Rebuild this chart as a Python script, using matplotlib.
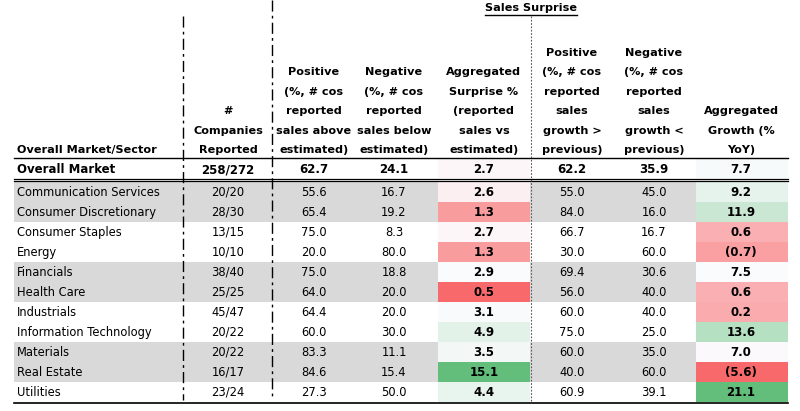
import numpy as np
import matplotlib
matplotlib.use("Agg")
import matplotlib.pyplot as plt
from matplotlib.colors import LinearSegmentedColormap, TwoSlopeNorm

# ---- table data ----
sectors = ["Communication Services", "Consumer Discretionary", "Consumer Staples",
           "Energy", "Financials", "Health Care", "Industrials",
           "Information Technology", "Materials", "Real Estate", "Utilities"]
reported = ["20/20", "28/30", "13/15", "10/10", "38/40", "25/25", "45/47",
            "20/22", "20/22", "16/17", "23/24"]
pos_surprise = [55.6, 65.4, 75.0, 20.0, 75.0, 64.0, 64.4, 60.0, 83.3, 84.6, 27.3]
neg_surprise = [16.7, 19.2, 8.3, 80.0, 18.8, 20.0, 20.0, 30.0, 11.1, 15.4, 50.0]
agg_surprise = [2.6, 1.3, 2.7, 1.3, 2.9, 0.5, 3.1, 4.9, 3.5, 15.1, 4.4]
pos_growth = [55.0, 84.0, 66.7, 30.0, 69.4, 56.0, 60.0, 75.0, 60.0, 40.0, 60.9]
neg_growth = [45.0, 16.0, 16.7, 60.0, 30.6, 40.0, 40.0, 25.0, 35.0, 60.0, 39.1]
agg_growth = [9.2, 11.9, 0.6, -0.7, 7.5, 0.6, 0.2, 13.6, 7.0, -5.6, 21.1]
gray_rows = [0, 1, 4, 5, 8, 9]

overall = ["Overall Market", "258/272", 62.7, 24.1, 2.7, 62.2, 35.9, 7.7]

headers = ["Overall Market/Sector", "#\nCompanies\nReported",
           "Positive\n(%, # cos\nreported\nsales above\nestimated)",
           "Negative\n(%, # cos\nreported\nsales below\nestimated)",
           "Aggregated\nSurprise %\n(reported\nsales vs\nestimated)",
           "Positive\n(%, # cos\nreported\nsales\ngrowth >\nprevious)",
           "Negative\n(%, # cos\nreported\nsales\ngrowth <\nprevious)",
           "Aggregated\nGrowth (%\nYoY)"]

# ---- layout (pixels) ----
W, H = 800, 411
left, right = 14, 788
col_x = [17, 228, 314, 394, 484, 572, 654, 741]
surp_cell = (438, 530)
grow_cell = (696, 788)
row0, row_h = 182, 20
overall_top, overall_bot = 159, 178
head_last_y, head_step = 150, 19.4

FONT = "DejaVu Sans"
fs_body = 8.3
fs_head = 8.1

green_red = LinearSegmentedColormap.from_list("rwg", ["#F8696B", "#FCFCFF", "#63BE7B"])


def fmt(v):
    return f"({abs(v):.1f})" if v < 0 else f"{v:.1f}"


fig = plt.figure(figsize=(W / 100, H / 100), dpi=100)
ax = fig.add_axes([0, 0, 1, 1])
ax.set_xlim(0, W)
ax.set_ylim(H, 0)
ax.axis("off")

all_surp = agg_surprise + [overall[4]]
all_grow = agg_growth + [overall[7]]
norm_s = TwoSlopeNorm(vmin=min(all_surp), vcenter=np.median(all_surp), vmax=max(all_surp))
norm_g = TwoSlopeNorm(vmin=min(all_grow), vcenter=np.median(all_grow), vmax=max(all_grow))

# row backgrounds
for i in range(len(sectors)):
    top = row0 + i * row_h
    if i in gray_rows:
        ax.fill_between([left, right], top, top + row_h, color="#d9d9d9", lw=0)
    ax.fill_between(surp_cell, top, top + row_h, color=green_red(norm_s(agg_surprise[i])), lw=0)
    ax.fill_between(grow_cell, top, top + row_h, color=green_red(norm_g(agg_growth[i])), lw=0)

ax.fill_between(surp_cell, overall_top, overall_bot, color=green_red(norm_s(overall[4])), lw=0)
ax.fill_between(grow_cell, overall_top, overall_bot, color=green_red(norm_g(overall[7])), lw=0)

# headers, one line at a time so the spacing is fixed
for j, h in enumerate(headers):
    lines = h.split("\n")
    for k, ln in enumerate(lines):
        y = head_last_y - (len(lines) - 1 - k) * head_step
        ax.text(col_x[j], y, ln, ha="left" if j == 0 else "center", va="center",
                fontsize=fs_head, fontweight="bold", family=FONT, color="black")

t = ax.text(531, 8, "Sales Surprise", ha="center", va="center", fontsize=fs_head,
            fontweight="bold", family=FONT)
fig.canvas.draw()
bb = t.get_window_extent().transformed(ax.transData.inverted())
ax.plot([bb.x0, bb.x1], [15.5, 15.5], color="black", lw=1)

# overall row
oy = (overall_top + overall_bot) / 2 + 1
for j, v in enumerate(overall):
    s = v if isinstance(v, str) else fmt(v)
    ax.text(col_x[j], oy, s, ha="left" if j == 0 else "center", va="center",
            fontsize=fs_head + 0.4, fontweight="bold", family=FONT)

# body rows
for i in range(len(sectors)):
    y = row0 + i * row_h + row_h / 2
    cells = [sectors[i], reported[i], fmt(pos_surprise[i]), fmt(neg_surprise[i]),
             fmt(agg_surprise[i]), fmt(pos_growth[i]), fmt(neg_growth[i]), fmt(agg_growth[i])]
    for j, s in enumerate(cells):
        bold = j in (4, 7)
        ax.text(col_x[j], y, s, ha="left" if j == 0 else "center", va="center",
                fontsize=fs_head + 0.4 if bold else fs_body,
                fontweight="bold" if bold else "normal", family=FONT, color="black")

# rules
ax.plot([left, right], [158, 158], color="black", lw=1)
ax.plot([left, right], [179, 179], color="black", lw=0.9)
ax.plot([left, right], [181.5, 181.5], color="black", lw=0.9)
ax.plot([left, right], [403, 403], color="black", lw=1.2)

ax.plot([183, 183], [16, 400], color="black", lw=1, linestyle=(0, (8, 3, 2, 3)))
ax.plot([272, 272], [0, 400], color="black", lw=1, linestyle=(0, (8, 3, 2, 3)))
ax.plot([531, 531], [16, 403], color="#555555", lw=0.8, linestyle=(0, (1.5, 1.5)))

fig.savefig("out.png", dpi=100)
